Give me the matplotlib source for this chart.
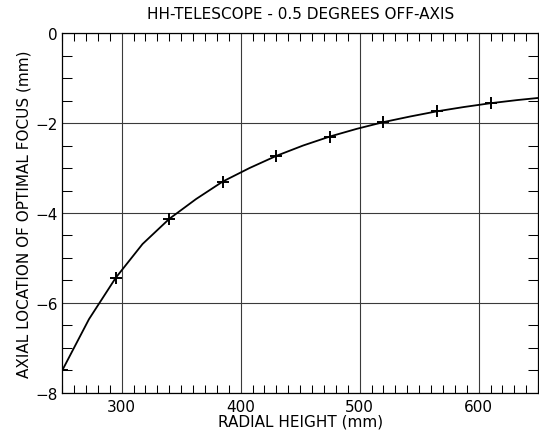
import numpy as np
import matplotlib
matplotlib.use("Agg")
import matplotlib.pyplot as plt
from matplotlib.ticker import MultipleLocator

# radial height (mm) vs axial position of best focus (mm)
radial_pts = [250, 295, 340, 385, 430, 475, 520, 565, 610, 655]
focus_pts = [-7.50, -5.44, -4.13, -3.30, -2.73, -2.30, -1.98, -1.74, -1.56, -1.43]

# traced curve (includes the half-step samples between marked points)
radial_curve = [250, 272.5, 295, 317.5, 340, 362.5, 385, 407.5, 430, 452.5,
                475, 497.5, 520, 542.5, 565, 587.5, 610, 632.5, 655]
focus_curve = [-7.50, -6.36, -5.44, -4.69, -4.13, -3.69, -3.30, -3.00, -2.73, -2.50,
               -2.30, -2.13, -1.98, -1.855, -1.74, -1.645, -1.56, -1.49, -1.43]

fig = plt.figure(figsize=(5.39, 4.35), dpi=100)
ax = fig.add_axes([0.1154, 0.0943, 0.883, 0.8275])

ax.plot(radial_curve, focus_curve, color="black", lw=1.3)
ax.plot(radial_pts, focus_pts, ls="none", marker="+", ms=9, mew=1.4, color="black")

ax.set_xlim(250, 650)
ax.set_ylim(-8, 0)
ax.xaxis.set_major_locator(MultipleLocator(100))
ax.xaxis.set_minor_locator(MultipleLocator(10))
ax.yaxis.set_major_locator(MultipleLocator(2))
ax.yaxis.set_minor_locator(MultipleLocator(0.5))

ax.tick_params(which="major", length=0, labelsize=11)
ax.tick_params(axis="x", which="major", pad=4)
ax.tick_params(axis="y", which="major", pad=3)
ax.tick_params(axis="x", which="minor", direction="in", length=6, width=0.75,
               top=True, bottom=True)
ax.tick_params(axis="y", which="minor", direction="in", length=7, width=0.75,
               left=True, right=True)
ax.grid(True, which="major", color="#3a3a3a", lw=0.8)

for s in ax.spines.values():
    s.set_color("black")
    s.set_linewidth(0.9)

ax.set_title("HH-TELESCOPE - 0.5 DEGREES OFF-AXIS", fontsize=11, pad=11)
ax.set_xlabel("RADIAL HEIGHT (mm)", fontsize=11)
ax.xaxis.set_label_coords(0.5, -0.058)
ax.set_ylabel("AXIAL LOCATION OF OPTIMAL FOCUS (mm)", fontsize=11, labelpad=3)

fig.savefig("out.png", dpi=100)
